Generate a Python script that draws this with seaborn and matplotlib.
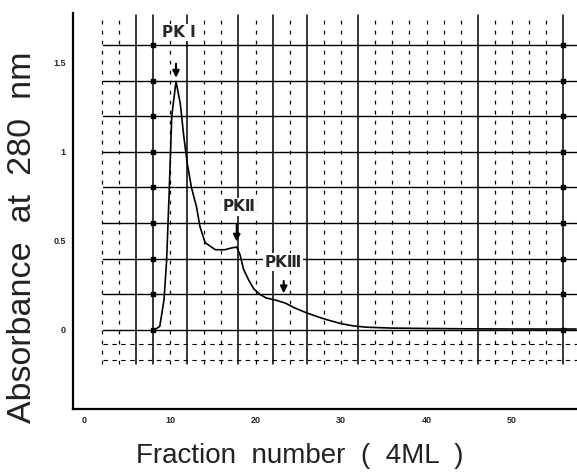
import numpy as np
import pandas as pd
import matplotlib
matplotlib.use("Agg")
import matplotlib.pyplot as plt
import seaborn as sns

# elution profile
fraction = [8.2, 8.8, 9.3, 9.6, 9.9, 10.2, 10.7, 11.2, 11.6, 12.0, 12.5, 13.1, 13.5,
            14.1, 15.3, 16.4, 17.2, 17.8, 18.2, 18.6, 19.2, 19.8, 20.5, 21.2, 22.5,
            23.5, 24.5, 26.0, 27.5, 28.5, 30.0, 31.5, 33.0, 36.0, 40.0, 45.0, 50.0, 57.5]
absorbance = [0.0, 0.02, 0.17, 0.39, 0.77, 1.2, 1.395, 1.27, 1.09, 0.94, 0.8, 0.69, 0.58,
              0.49, 0.45, 0.45, 0.46, 0.465, 0.42, 0.34, 0.28, 0.23, 0.20, 0.18, 0.165,
              0.15, 0.125, 0.095, 0.07, 0.055, 0.035, 0.022, 0.015, 0.01, 0.008, 0.006, 0.005, 0.005]

# peak annotations: label, arrow x, label y, arrow top, arrow tip
peak_labels = ["PK \u2160", "PK\u2161", "PK\u2162"]
peak_x = [10.7, 17.8, 23.3]
peak_label_x = [11.0, 18.1, 23.2]
peak_label_y = [1.67, 0.69, 0.38]
peak_arrow_top = [1.51, 0.61, 0.29]
peak_arrow_tip = [1.40, 0.48, 0.19]

x_ticks = [0, 10, 20, 30, 40, 50]
y_ticks = [0, 0.5, 1, 1.5]
y_tick_labels = ["0", "0.5", "1", "1.5"]

# graph paper behind the trace
grid_y = [0, 0.2, 0.4, 0.6, 0.8, 1.0, 1.2, 1.4, 1.6]
grid_x_solid = [6, 8, 12, 18, 22, 26, 32, 46, 56]
grid_x_dashed = [2, 4, 10, 14, 16, 20, 24, 28, 30, 34, 36, 38, 40, 42, 44, 48, 50, 52, 54]
grid_y_dashed = [-0.08, -0.17]

df = pd.DataFrame({"fraction": fraction, "absorbance": absorbance})

sns.set_style("white")
plt.rcParams["font.family"] = ["Liberation Sans", "DejaVu Sans", "Noto Sans CJK SC"]

fig = plt.figure(figsize=(5.77, 4.75), dpi=100)
ax = fig.add_axes([0.1265, 0.139, 0.8735, 0.834])

y_lo, y_hi = -0.19, 1.77
for gx in grid_x_solid:
    ax.plot([gx, gx], [y_lo, y_hi], color="black", lw=1.1, zorder=1)
for gx in grid_x_dashed:
    ax.plot([gx, gx], [y_lo, y_hi], color="black", lw=0.9, ls=(0, (3, 5)), zorder=1)
for gy in grid_y:
    ax.plot([2.2, 57.6], [gy, gy], color="black", lw=1.0, zorder=1)
for gy in grid_y_dashed:
    ax.plot([2.2, 57.6], [gy, gy], color="black", lw=0.8, ls=(0, (4, 4)), zorder=1)
ax.scatter([8] * len(grid_y), grid_y, marker="s", s=10, color="black", zorder=2)
ax.scatter([56] * len(grid_y), grid_y, marker="s", s=10, color="black", zorder=2)

sns.lineplot(data=df, x="fraction", y="absorbance", ax=ax, color="black", lw=1.2, zorder=3)

for lab, px, lx, ly, top, tip in zip(peak_labels, peak_x, peak_label_x, peak_label_y,
                                     peak_arrow_top, peak_arrow_tip):
    ax.text(lx, ly, lab, ha="center", va="center", fontsize=11, fontweight="bold",
            family=["DejaVu Sans", "Noto Sans CJK SC"], zorder=4,
            bbox=dict(facecolor="white", edgecolor="none", pad=1))
    ax.annotate("", xy=(px, tip), xytext=(px, top),
                arrowprops=dict(arrowstyle="-|>", color="black", lw=1.5, mutation_scale=10), zorder=4)

ax.set_xlim(-1.35, 57.6)
ax.set_ylim(-0.444, 1.78)
ax.set_xticks(x_ticks)
ax.set_xticklabels([str(t) for t in x_ticks], fontsize=6.5, fontweight="bold")
ax.set_yticks(y_ticks)
ax.set_yticklabels(y_tick_labels, fontsize=6.5, fontweight="bold")
ax.tick_params(direction="in", length=6, width=1.2, pad=5)

for side in ["top", "right"]:
    ax.spines[side].set_visible(False)
for side in ["left", "bottom"]:
    ax.spines[side].set_linewidth(1.6)
    ax.spines[side].set_color("black")

ax.set_xlabel("Fraction  number  (  4ML  )", fontsize=20, color="#222222", va="center")
ax.xaxis.set_label_coords(0.45, -0.119)
ax.set_ylabel("Absorbance  at  280  nm", fontsize=24.5, color="#222222", va="center")
ax.yaxis.set_label_coords(-0.101, 0.434)

fig.savefig("out.png", dpi=100)
